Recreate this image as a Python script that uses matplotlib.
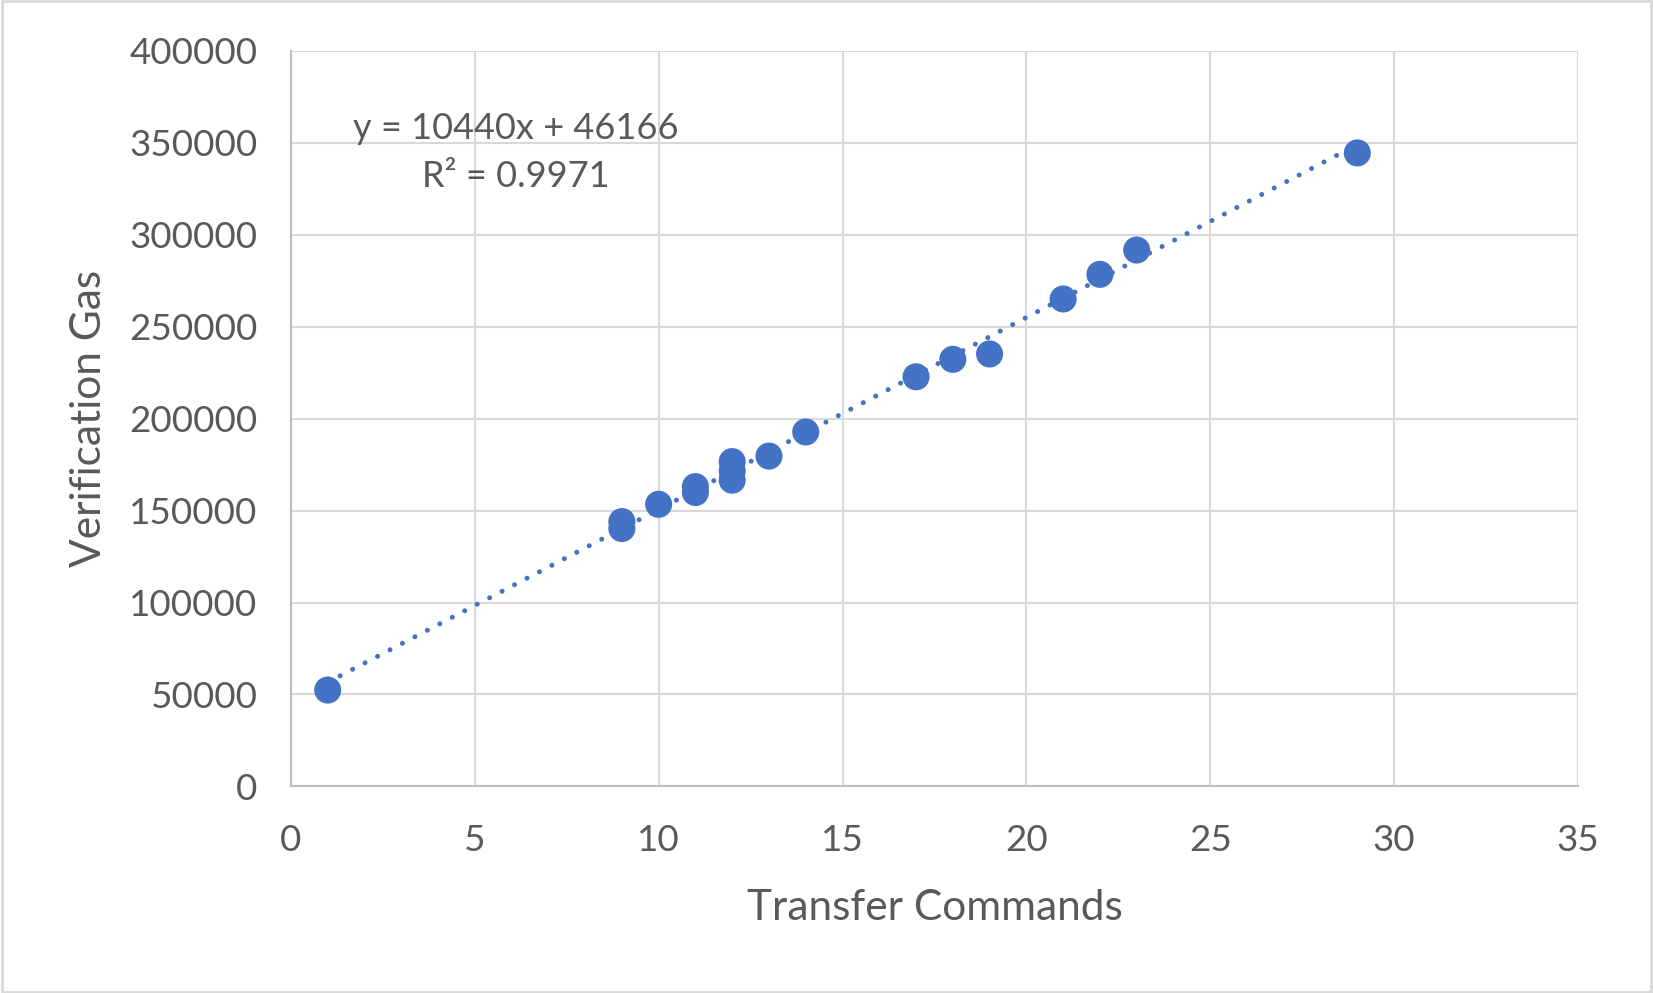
import matplotlib
matplotlib.use('Agg')
import matplotlib.pyplot as plt
import numpy as np

plt.rcParams['font.family'] = ['Lato', 'DejaVu Sans']

# data
commands = [1, 9, 9, 10, 11, 11, 12, 12, 12, 13, 14, 17, 18, 19, 21, 22, 23, 29]
gas = [52400, 144000, 140200, 153400, 163000, 159800, 176600, 171500, 166500,
       179600, 192700, 222700, 232200, 235100, 265000, 278400, 291600, 344400]

slope = 10440
intercept = 46166
r2 = 0.9971

TEXT = '#595959'
GRID = '#d9d9d9'
BLUE = '#4472C4'

fig = plt.figure(figsize=(16.53, 9.93), dpi=100)
ax = fig.add_axes([0.176, 0.208, 0.7786, 0.741])

# trendline (dotted)
tx = np.array([min(commands), max(commands)])
ax.plot(tx, slope * tx + intercept, color=BLUE, lw=3.6,
        linestyle=(0, (0.01, 2.8)), dash_capstyle='round', zorder=2)

ax.scatter(commands, gas, s=380, color=BLUE, edgecolors='none', zorder=3)

ax.set_xlim(0, 35)
ax.set_ylim(0, 400000)
ax.set_xticks(range(0, 36, 5))
ax.set_yticks(range(0, 400001, 50000))
ax.grid(True, color=GRID, lw=1.5)
ax.set_axisbelow(True)
for s in ['top', 'right']:
    ax.spines[s].set_visible(False)
for s in ['left', 'bottom']:
    ax.spines[s].set_color('#bfbfbf')
    ax.spines[s].set_linewidth(1.5)
ax.tick_params(length=0, labelsize=26.5, colors=TEXT)
ax.tick_params(axis='x', pad=27)
ax.tick_params(axis='y', pad=24)

ax.set_xlabel('Transfer Commands', fontsize=30.5, color=TEXT, va='center')
ax.set_ylabel('Verification Gas', fontsize=30.5, color=TEXT, va='center')
ax.xaxis.set_label_coords(0.5, -0.165)
ax.yaxis.set_label_coords(-0.157, 0.5)

ax.text(0.1745, 0.862, f'y = {slope}x + {intercept}\nR² = {r2}',
        transform=ax.transAxes, ha='center', va='center',
        fontsize=26, color=TEXT, linespacing=1.55)

# outer frame like the Excel chart area
fig.patches.append(plt.Rectangle((0.001, 0.001), 0.998, 0.998,
                                 transform=fig.transFigure, fill=False,
                                 edgecolor='#d9d9d9', lw=2))

fig.savefig('out.png', dpi=100)
